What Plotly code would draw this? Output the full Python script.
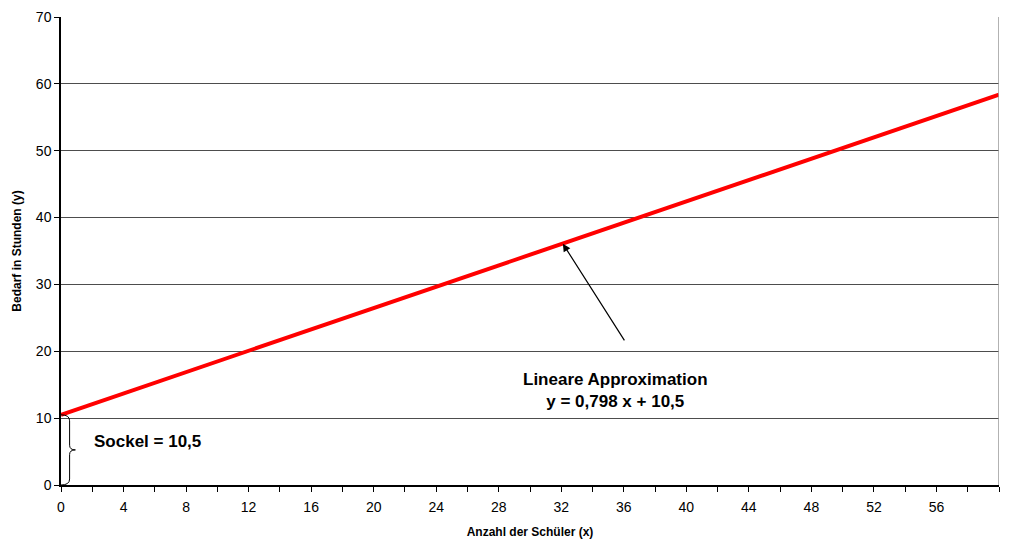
import plotly.graph_objects as go

# Data
x_vals = [0, 60]
slope = 0.798
sockel = 10.5
y_vals = [sockel + slope * x for x in x_vals]
x_ticks = list(range(0, 61, 4))
y_ticks = list(range(0, 71, 10))
arrow_tail = (36.1, 21.4)
arrow_head = (32.1, 36.1)
label_pos = (35.5, 14.2)

fig = go.Figure()
fig.add_trace(go.Scatter(x=x_vals, y=y_vals, mode="lines",
                         line=dict(color="#ff0000", width=4), showlegend=False,
                         hoverinfo="skip"))

# curly brace for Sockel
bx, tx = 0.55, 0.92
mid = sockel / 2
path = (f"M 0,{sockel} Q {bx},{sockel} {bx},{sockel-0.9} L {bx},{mid+0.7} "
        f"Q {bx},{mid} {tx},{mid} Q {bx},{mid} {bx},{mid-0.7} "
        f"L {bx},0.9 Q {bx},0 0,0")
fig.add_shape(type="path", path=path, xref="x", yref="y",
              line=dict(color="#000000", width=1))
# right border
fig.add_shape(type="line", x0=60, x1=60, y0=0, y1=70, xref="x", yref="y",
              line=dict(color="#999999", width=1.5))

fig.add_annotation(x=arrow_head[0], y=arrow_head[1], ax=arrow_tail[0], ay=arrow_tail[1],
                   axref="x", ayref="y", xref="x", yref="y", showarrow=True,
                   arrowhead=2, arrowsize=1.3, arrowwidth=1.2, arrowcolor="#000000", text="")
fig.add_annotation(x=label_pos[0], y=label_pos[1], xref="x", yref="y", showarrow=False,
                   text="<b>Lineare Approximation<br>y = 0,798 x + 10,5</b>",
                   font=dict(family="Liberation Sans, Arial", size=17, color="#000000"),
                   align="center")
fig.add_annotation(x=2.0, y=6.5, xref="x", yref="y", showarrow=False, xanchor="left",
                   text="<b>Sockel = 10,5</b>",
                   font=dict(family="Liberation Sans, Arial", size=17, color="#000000"))

fig.update_layout(
    width=1000, height=539, autosize=False,
    margin=dict(l=61, r=1, t=17, b=54),
    paper_bgcolor="white", plot_bgcolor="white",
    font=dict(family="Liberation Sans, Arial", size=14, color="#000000"),
    xaxis=dict(range=[0, 60], tickvals=x_ticks, showgrid=False, zeroline=False,
               showline=True, linecolor="#000000", linewidth=1.5,
               ticks="outside", ticklen=5, tickcolor="#000000",
               ticklabelstandoff=3,
               minor=dict(dtick=2, ticks="outside", ticklen=5, tickcolor="#000000", showgrid=False),
               title=dict(text="<b>Anzahl der Schüler (x)</b>", font=dict(size=12), standoff=14)),
    yaxis=dict(range=[0, 70], tickvals=y_ticks, showgrid=True, gridcolor="#4d4d4d", gridwidth=1,
               zeroline=False, showline=True, linecolor="#000000", linewidth=1.5,
               ticks="outside", ticklen=5, tickcolor="#000000",
               title=dict(text="<b>Bedarf in Stunden (y)</b>", font=dict(size=12), standoff=12)),
)

fig.write_html("out.html", config={"displayModeBar": False, "responsive": False},
               post_script="document.body.style.margin='0';document.body.style.overflow='hidden';")
